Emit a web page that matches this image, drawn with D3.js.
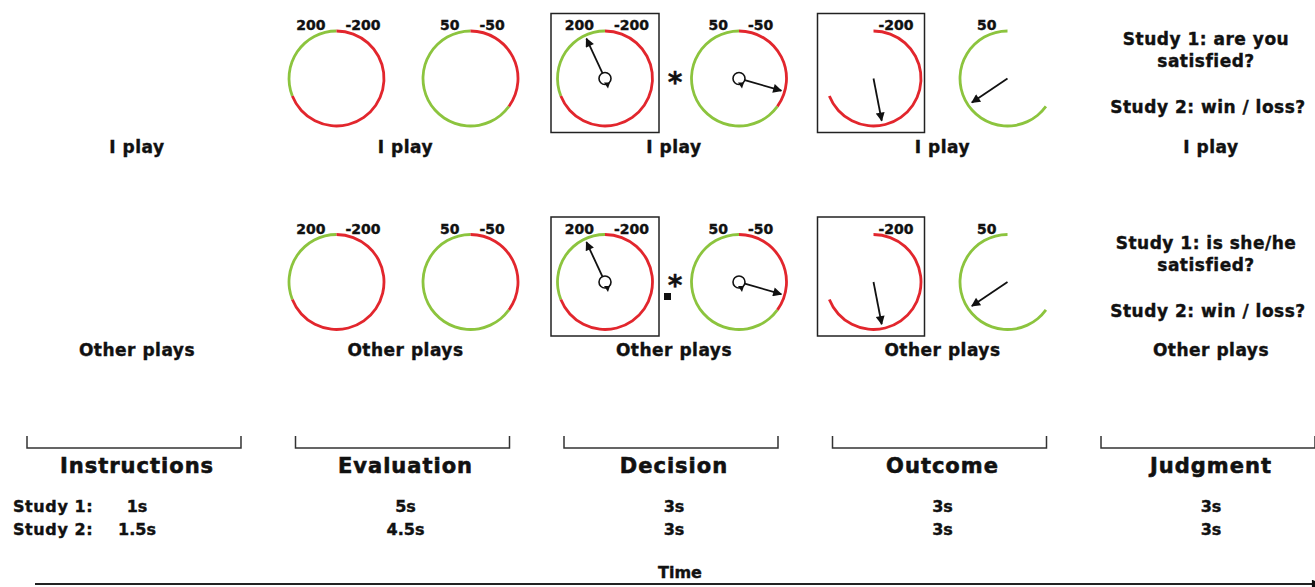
<!DOCTYPE html>
<html>
<head>
<meta charset="utf-8">
<script src="https://cdn.jsdelivr.net/npm/d3@7"></script>
<style>
  body { margin: 0; background: #fff; }
  text { font-family: "DejaVu Sans", sans-serif; font-weight: bold; fill: #111; stroke: #111; stroke-width: 0.4px; }
</style>
</head>
<body>
<div class="container"></div>
<script>
var phases = ["Instructions", "Evaluation", "Decision", "Outcome", "Judgment"];
var study1 = ["1s", "5s", "3s", "3s", "3s"];
var study2 = ["1.5s", "4.5s", "3s", "3s", "3s"];
var rows = ["I play", "Other plays"];
var judgmentQ1 = [["Study 1: are you", "satisfied?"], ["Study 1: is she/he", "satisfied?"]];
var judgmentQ2 = "Study 2: win / loss?";

// the two gambles shown on each screen
var gambleWin = [200, 50];
var gambleLoss = [-200, -50];
var pWin = [0.31, 0.65];
var chosen = 0;
var decisionSpin = [335, 106];   // pointer angle, degrees clockwise from top
var outcomeSpin = [169, 236];
var outcomeResult = ["loss", "win"];

var W = 1315, H = 587;
var green = "#8cc43e", red = "#e2262d";

var svg = d3.select('.container').append('svg').attr('width', W).attr('height', H);

var defs = svg.append('defs');
defs.append('marker').attr('id', 'head').attr('viewBox', '0 0 10 10')
	.attr('refX', 9).attr('refY', 5).attr('markerWidth', 14).attr('markerHeight', 9)
	.attr('markerUnits', 'userSpaceOnUse').attr('orient', 'auto')
	.append('path').attr('d', 'M0,0L10,5L0,10Z').attr('fill', '#111');

var x = d3.scaleBand().domain(phases).range([27, 1315]).paddingInner(0.203);
var y = d3.scalePoint().domain(rows).range([78.5, 282]);
var wheelX = d3.scalePoint().domain([0, 1]).range([-66, 68]);
var angle = d3.scaleLinear().domain([0, 1]).range([0, 2 * Math.PI]);
var deg = d3.scaleLinear().domain([0, 360]).range([0, 2 * Math.PI]);

var R = 47.5;
var ring = d3.arc().innerRadius(R - 1.4).outerRadius(R + 1.4);

function cx(phase) { return x(phase) + x.bandwidth() / 2; }

function wheel(g, i, part) {
	if (part !== "loss") {
		g.append('path').attr('fill', green)
			.attr('d', ring({startAngle: -angle(pWin[i]), endAngle: 0}));
	}
	if (part !== "win") {
		g.append('path').attr('fill', red)
			.attr('d', ring({startAngle: 0, endAngle: angle(1 - pWin[i])}));
	}
	if (part !== "loss") {
		g.append('text').attr('x', -11).attr('y', -48.5).attr('text-anchor', 'end')
			.style('font-size', '14px').text(gambleWin[i]);
	}
	if (part !== "win") {
		g.append('text').attr('x', part === "loss" ? 5 : 9).attr('y', -48.5)
			.style('font-size', '14px').text(gambleLoss[i]);
	}
}

function pointer(g, a, len, hub) {
	var t = deg(a);
	var r0 = hub ? 6 : 0;
	g.append('line')
		.attr('x1', r0 * Math.sin(t)).attr('y1', -r0 * Math.cos(t))
		.attr('x2', len * Math.sin(t)).attr('y2', -len * Math.cos(t))
		.attr('stroke', '#111').attr('stroke-width', 1.8)
		.attr('marker-end', 'url(#head)');
	if (hub) {
		g.append('circle').attr('r', 6).attr('fill', 'none')
			.attr('stroke', '#111').attr('stroke-width', 1.6);
		g.append('path').attr('d', 'M-1,4L5,4L3,10Z').attr('fill', '#111');
	}
}

rows.forEach(function(row, ri) {
	var cy = y(row);

	// row labels under each phase
	svg.selectAll(null).data(phases).enter().append('text')
		.attr('x', function(d) { return cx(d) + 3; })
		.attr('y', cy + 74).attr('text-anchor', 'middle')
		.style('font-size', '17px').style('letter-spacing', '0.5px').text(row);

	// evaluation
	[0, 1].forEach(function(i) {
		var g = svg.append('g').attr('transform', 'translate(' + (cx("Evaluation") + wheelX(i)) + ',' + cy + ')');
		wheel(g, i, "both");
	});

	// decision
	[0, 1].forEach(function(i) {
		var g = svg.append('g').attr('transform', 'translate(' + (cx("Decision") + wheelX(i)) + ',' + cy + ')');
		if (i === chosen) {
			g.append('rect').attr('x', -54).attr('y', -65).attr('width', 108).attr('height', 119)
				.attr('fill', 'none').attr('stroke', '#222').attr('stroke-width', 1.5);
		}
		wheel(g, i, "both");
		pointer(g, decisionSpin[i], 44, true);
	});
	svg.append('text').attr('x', cx("Decision") + 4).attr('y', cy + 13)
		.attr('text-anchor', 'middle').style('font-size', '28px').text('*');
	if (ri === 1) {
		svg.append('rect').attr('x', cx("Decision") - 7).attr('y', cy + 11)
			.attr('width', 7).attr('height', 7).attr('fill', '#111');
	}

	// outcome
	[0, 1].forEach(function(i) {
		var g = svg.append('g').attr('transform', 'translate(' + (cx("Outcome") + wheelX(i)) + ',' + cy + ')');
		if (i === chosen) {
			g.append('rect').attr('x', -56).attr('y', -65).attr('width', 107).attr('height', 119)
				.attr('fill', 'none').attr('stroke', '#222').attr('stroke-width', 1.5);
		}
		wheel(g, i, outcomeResult[i]);
		pointer(g, outcomeSpin[i], 43, false);
	});

	// judgment questions
	var jx = cx("Judgment") - 2;
	judgmentQ1[ri].forEach(function(line, li) {
		svg.append('text').attr('x', jx).attr('y', cy - 33.5 + li * 22)
			.attr('text-anchor', 'middle').style('font-size', '17px').style('letter-spacing', '0.5px').text(line);
	});
	svg.append('text').attr('x', jx + 2).attr('y', cy + 34.5)
		.attr('text-anchor', 'middle').style('font-size', '17px').style('letter-spacing', '0.5px').text(judgmentQ2);
});

// phase brackets
var br = svg.append('g');
br.selectAll('path').data(phases).enter().append('path')
	.attr('d', function(d) { return 'M' + x(d) + ',436V448H' + (x(d) + x.bandwidth()) + 'V436'; })
	.attr('fill', 'none').attr('stroke', '#333').attr('stroke-width', 1.5);

svg.selectAll(null).data(phases).enter().append('text')
	.attr('x', function(d) { return cx(d) + 3; }).attr('y', 473)
	.attr('text-anchor', 'middle').style('font-size', '21px').style('letter-spacing', '1px')
	.style('stroke-width', '0.6px').text(function(d) { return d; });

// durations
svg.append('text').attr('x', 13).attr('y', 512).style('font-size', '16px').style('letter-spacing', '0.6px').text('Study 1:');
svg.append('text').attr('x', 13).attr('y', 535).style('font-size', '16px').style('letter-spacing', '0.6px').text('Study 2:');
svg.selectAll(null).data(study1).enter().append('text')
	.attr('x', function(d, i) { return cx(phases[i]) + 3; }).attr('y', 512)
	.attr('text-anchor', 'middle').style('font-size', '16px').text(function(d) { return d; });
svg.selectAll(null).data(study2).enter().append('text')
	.attr('x', function(d, i) { return cx(phases[i]) + 3; }).attr('y', 535)
	.attr('text-anchor', 'middle').style('font-size', '16px').text(function(d) { return d; });

// time axis
svg.append('line').attr('x1', 35).attr('y1', 584).attr('x2', 1320).attr('y2', 584)
	.attr('stroke', '#222').attr('stroke-width', 2).attr('marker-end', 'url(#head)');
svg.append('text').attr('x', 680).attr('y', 578).attr('text-anchor', 'middle')
	.style('font-size', '16px').text('Time');
</script>
</body>
</html>
